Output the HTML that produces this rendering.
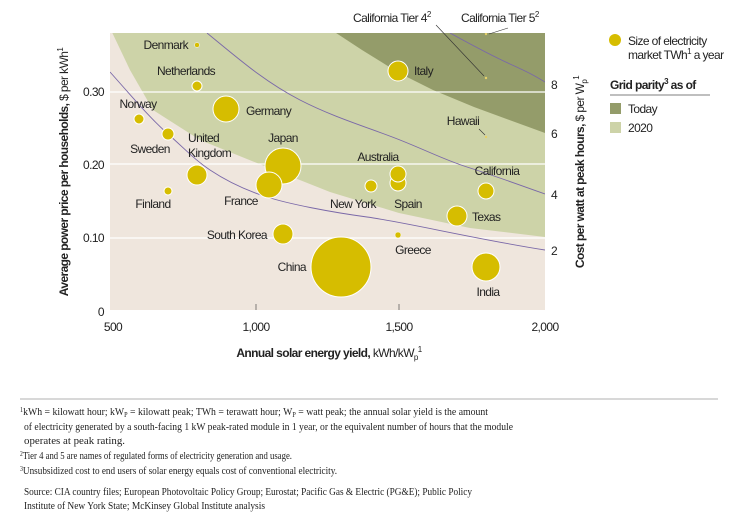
<!DOCTYPE html>
<html><head><meta charset="utf-8"><style>
body{margin:0;background:#fff;width:734px;height:526px;overflow:hidden}
svg{display:block}
.l{font-family:"Liberation Sans Narrow","Liberation Sans",sans-serif;font-size:12px;fill:#222;letter-spacing:-0.6px}
.fn{font-family:"Liberation Serif",serif;font-size:11px;fill:#222}
</style></head><body>
<svg width="734" height="526" viewBox="0 0 734 526" xmlns="http://www.w3.org/2000/svg">
<defs><clipPath id="c"><rect x="110" y="33" width="435" height="277"/></clipPath></defs>
<rect x="110" y="33" width="435" height="277" fill="#efe6dd"/>
<g clip-path="url(#c)">
<path d="M110,28 L130,70 L153,110 L200,140 L257,163 L330,192 L399,213 L470,228 L545,237 L545,33 Z" fill="#cdd3a8"/>
<path d="M330,29 L362,50 L399,73 L433,90 L474,107 L545,133 L545,33 Z" fill="#949c6a"/>
<g stroke="#fff" stroke-width="1.2"><line x1="110" y1="238" x2="545" y2="238"/><line x1="110" y1="164" x2="545" y2="164"/><line x1="110" y1="92" x2="545" y2="92"/></g>
<g fill="none" stroke="#7a68a8" stroke-width="0.9">
<path d="M110,72 C135,100 150,118 168,134 S195,160 210,170 S245,190 267,197 S330,212 367,217 S480,240 545,250"/>
<path d="M207,33 C240,60 265,82 300,100 S370,128 400,140 S445,160 467,167 S520,185 545,194"/>
<path d="M450,33 C470,44 490,55 510,64 S535,76 545,82"/>
</g>
<g fill="#d6bd00" stroke="#fff" stroke-width="1">
<circle cx="341" cy="267" r="30"/><circle cx="283" cy="166" r="18"/><circle cx="226" cy="109" r="13"/><circle cx="269" cy="185" r="13"/><circle cx="486" cy="267" r="14"/><circle cx="197" cy="175" r="10"/><circle cx="398" cy="71" r="10"/><circle cx="457" cy="216" r="10"/><circle cx="283" cy="234" r="10"/><circle cx="398" cy="183" r="8"/><circle cx="398" cy="174" r="8"/><circle cx="486" cy="191" r="8"/><circle cx="371" cy="186" r="6"/><circle cx="168" cy="134" r="6"/><circle cx="139" cy="119" r="5"/><circle cx="197" cy="86" r="5"/><circle cx="168" cy="191" r="4"/><circle cx="398" cy="235" r="3" stroke-width="0.5"/><circle cx="197" cy="45" r="2.5" stroke-width="0.5"/>
</g>
<g fill="#e6d06a"><circle cx="486" cy="137" r="1.2"/><circle cx="486" cy="78" r="1.2"/><circle cx="486" cy="34" r="1.2"/></g>
</g>
<g stroke="#333" stroke-width="0.6"><line x1="436" y1="25" x2="484" y2="76"/><line x1="508" y1="28" x2="489" y2="34"/><line x1="479" y1="129" x2="485" y2="135"/>
<line x1="256" y1="310" x2="256" y2="304"/><line x1="399" y1="310" x2="399" y2="304"/></g>
<g class="l">
<text x="188" y="49" text-anchor="end">Denmark</text><text x="186" y="75" text-anchor="middle">Netherlands</text>
<text x="246" y="115">Germany</text><text x="138" y="108" text-anchor="middle">Norway</text><text x="150" y="153" text-anchor="middle">Sweden</text>
<text x="188" y="142">United</text><text x="188" y="157">Kingdom</text><text x="283" y="142" text-anchor="middle">Japan</text>
<text x="414" y="75">Italy</text><text x="463" y="125" text-anchor="middle">Hawaii</text><text x="378" y="161" text-anchor="middle">Australia</text>
<text x="497" y="175" text-anchor="middle">California</text><text x="153" y="208" text-anchor="middle">Finland</text><text x="241" y="205" text-anchor="middle">France</text>
<text x="353" y="208" text-anchor="middle">New York</text><text x="408" y="208" text-anchor="middle">Spain</text><text x="472" y="221">Texas</text>
<text x="267" y="239" text-anchor="end">South Korea</text><text x="413" y="254" text-anchor="middle">Greece</text><text x="306" y="271" text-anchor="end">China</text><text x="488" y="296" text-anchor="middle">India</text>
<text x="353" y="22">California Tier 4<tspan font-size="8" dy="-5">2</tspan></text><text x="461" y="22">California Tier 5<tspan font-size="8" dy="-5">2</tspan></text>
<text x="104" y="96" text-anchor="end">0.30</text><text x="104" y="169" text-anchor="end">0.20</text><text x="104" y="242" text-anchor="end">0.10</text><text x="104" y="316" text-anchor="end">0</text>
<text x="551" y="89">8</text><text x="551" y="138">6</text><text x="551" y="199">4</text><text x="551" y="255">2</text>
<text x="113" y="331" text-anchor="middle">500</text><text x="256" y="331" text-anchor="middle">1,000</text><text x="399" y="331" text-anchor="middle">1,500</text><text x="545" y="331" text-anchor="middle">2,000</text>
<text x="329" y="357" text-anchor="middle"><tspan font-weight="bold">Annual solar energy yield,</tspan> kWh/kW<tspan font-size="8" dy="3">p</tspan><tspan font-size="8" dy="-8">1</tspan></text>
<text transform="translate(68,172) rotate(-90)" text-anchor="middle"><tspan font-weight="bold">Average power price per households,</tspan> $ per kWh<tspan font-size="8" dy="-5">1</tspan></text>
<text transform="translate(584,172) rotate(-90)" text-anchor="middle"><tspan font-weight="bold">Cost per watt at peak hours,</tspan> $ per W<tspan font-size="8" dy="3">p</tspan><tspan font-size="8" dy="-8">1</tspan></text>
<text x="628" y="45">Size of electricity</text><text x="628" y="59">market TWh<tspan font-size="8" dy="-5">1</tspan><tspan dy="5"> a year</tspan></text>
<text x="610" y="89" font-weight="bold">Grid parity<tspan font-size="8" dy="-5">3</tspan><tspan dy="5"> as of</tspan></text>
<text x="628" y="113">Today</text><text x="628" y="132">2020</text>
</g>
<circle cx="615" cy="40" r="6" fill="#d6bd00"/>
<line x1="610" y1="95" x2="710" y2="95" stroke="#aaa" stroke-width="1.5"/>
<rect x="610" y="103" width="11" height="11" fill="#949c6a"/><rect x="610" y="122" width="11" height="11" fill="#cdd3a8"/>
<line x1="20" y1="399" x2="718" y2="399" stroke="#999" stroke-width="0.8"/>
<g class="fn">
<text x="20" y="415" textLength="468" lengthAdjust="spacingAndGlyphs"><tspan font-size="7" dy="-3">1</tspan><tspan dy="3">kWh = kilowatt hour; kW</tspan><tspan font-size="7" dy="2">P</tspan><tspan dy="-2"> = kilowatt peak; TWh = terawatt hour; W</tspan><tspan font-size="7" dy="2">P</tspan><tspan dy="-2"> = watt peak; the annual solar yield is the amount</tspan></text>
<text x="24" y="430" textLength="489" lengthAdjust="spacingAndGlyphs">of electricity generated by a south-facing 1 kW peak-rated module in 1 year, or the equivalent number of hours that the module</text>
<text x="24" y="444" textLength="101" lengthAdjust="spacingAndGlyphs">operates at peak rating.</text>
<text x="20" y="459" textLength="272" lengthAdjust="spacingAndGlyphs"><tspan font-size="7" dy="-3">2</tspan><tspan dy="3">Tier 4 and 5 are names of regulated forms of electricity generation and usage.</tspan></text>
<text x="20" y="474" textLength="317" lengthAdjust="spacingAndGlyphs"><tspan font-size="7" dy="-3">3</tspan><tspan dy="3">Unsubsidized cost to end users of solar energy equals cost of conventional electricity.</tspan></text>
<text x="24" y="495" textLength="448" lengthAdjust="spacingAndGlyphs">Source: CIA country files; European Photovoltaic Policy Group; Eurostat; Pacific Gas &amp; Electric (PG&amp;E); Public Policy</text>
<text x="24" y="509" textLength="241" lengthAdjust="spacingAndGlyphs">Institute of New York State; McKinsey Global Institute analysis</text>
</g>
</svg>
</body></html>
